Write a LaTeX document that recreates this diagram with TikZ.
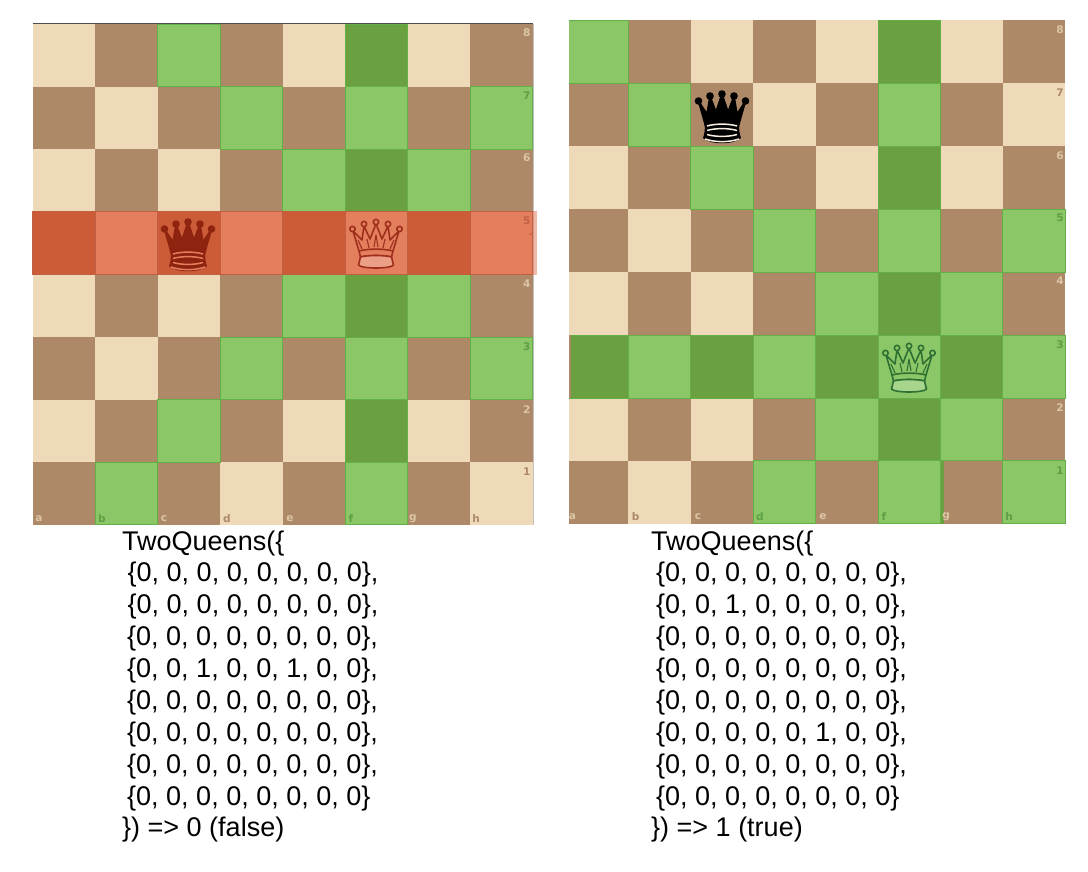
\documentclass[tikz,border=0pt]{standalone}
\usepackage{fontspec}
\setmainfont{Liberation Sans}
\newfontfamily\labfont{DejaVu Sans}
\definecolor{lightsq}{HTML}{EED9B8}
\definecolor{darksq}{HTML}{AE8968}
\definecolor{lightgreen}{HTML}{8BC766}
\definecolor{darkgreen}{HTML}{6AA03F}
\definecolor{greenedge}{HTML}{63B047}
\definecolor{lightred}{HTML}{E47F5E}
\definecolor{darkred}{HTML}{CC5B38}
\definecolor{redmark}{HTML}{C25F42}
\definecolor{qred}{HTML}{8E2310}
\definecolor{qredo}{HTML}{9E2F1C}
\definecolor{qgreen}{HTML}{2F7035}
\definecolor{onbrown}{HTML}{DCC6A6}
\definecolor{ongreen}{HTML}{5E9E45}
\tikzset{
  code/.style={anchor=base west,inner sep=0pt,font=\fontsize{27}{27}\selectfont,text=black},
  coord/.style={inner sep=0pt,font=\labfont\bfseries\fontsize{10.5}{10.5}\selectfont},
}
% \squares{x0}{y0}{cw}{ch}{row/col list}{light colour}{dark colour}{edge}
\newcommand{\squares}[8]{%
  \foreach \r/\c in {#5}{%
    \pgfmathtruncatemacro{\sqparity}{mod(\r+\c,2)}%
    \ifnum\sqparity=0 \def\sqc{#6}\else\def\sqc{#7}\fi
    \filldraw[fill=\sqc,draw=#8,line width=.7] ({#1+#3*\c},{#2+#4*\r}) rectangle ++(#3,#4);
  }%
}
\newcommand{\baseboard}[4]{%
  \foreach \r in {0,...,7}{\foreach \c in {0,...,7}{%
    \pgfmathtruncatemacro{\sqparity}{mod(\r+\c,2)}%
    \ifnum\sqparity=0 \def\sqc{lightsq}\else\def\sqc{darksq}\fi
    \fill[\sqc] ({#1+#3*\c},{#2+#4*\r}) rectangle ++({#3+.2},{#4+.2});
  }}%
}
% solid queen: centre, ink, stripe
\newcommand{\solidqueen}[3]{%
  \begin{scope}[shift={(#1)}]
    \fill[#2] (-23.5,-14) circle (3.8) (-12,-19) circle (3.8) (0,-21) circle (3.8) (12,-19) circle (3.8) (23.5,-14) circle (3.8);
    \filldraw[#2,line width=1.6,line join=round] (-23.5,-14) -- (-15,-1) -- (-12,-19) -- (-6,-3) -- (0,-21) -- (6,-3) -- (12,-19) -- (15,-1) -- (23.5,-14) -- (17,9) -- (-17,9) -- cycle;
    \fill[#2] (-18,8) -- (18,8) .. controls (16,14) and (18,20) .. (19,23) .. controls (12,30) and (-12,30) .. (-19,23) .. controls (-18,20) and (-16,14) .. cycle;
    \draw[#3,line width=1.5] (-15,11) .. controls (-7,8.5) and (7,8.5) .. (15,11);
    \draw[#3,line width=1.5] (-15,15.5) .. controls (-7,13) and (7,13) .. (15,15.5);
    \draw[#3,line width=1.5] (-15,19.5) .. controls (-7,22) and (7,22) .. (15,19.5);
    \draw[#3,line width=1.5] (-17,24) .. controls (-7,27.5) and (7,27.5) .. (17,24);
  \end{scope}%
}
% outlined queen: centre, ink, fill
\newcommand{\openqueen}[3]{%
  \begin{scope}[shift={(#1)},draw=#2,line width=1.6,line join=round]
    \filldraw[fill=#3] (-17,8) -- (-23,-12) -- (-14,-3) -- (-12,-17) -- (-6,-4) -- (0,-19) -- (6,-4) -- (12,-17) -- (14,-3) -- (23,-12) -- (17,8) -- cycle;
    \draw[line width=1.1] (-14,6) -- (-18,-3) (14,6) -- (18,-3) (-7,5) -- (-9,-4) (7,5) -- (9,-4) (-2,4) -- (0,-8) -- (2,4);
    \filldraw[fill=#3] (-23.5,-14) circle (2.7) (-12,-19) circle (2.7) (0,-21) circle (2.7) (12,-19) circle (2.7) (23.5,-14) circle (2.7);
    \filldraw[fill=#3] (-17,8) .. controls (-8,5.5) and (8,5.5) .. (17,8) -- (15.5,14) .. controls (8,12) and (-8,12) .. (-15.5,14) -- cycle;
    \filldraw[fill=#3!75!white] (-15.5,14) .. controls (-8,12) and (8,12) .. (15.5,14) -- (17.5,22) .. controls (15,26) and (-15,26) .. (-17.5,22) -- cycle;
  \end{scope}%
}
\begin{document}
\begin{tikzpicture}[x=1pt,y=-1pt]
\useasboundingbox (0,0) rectangle (1088,872);
\fill[white] (0,0) rectangle (1088,872);

% ---- left board
\baseboard{32.7}{24}{62.5}{62.6}
\squares{32.7}{24}{62.5}{62.6}{0/2,0/5,1/3,1/5,1/7,2/4,2/5,2/6,4/4,4/5,4/6,5/3,5/5,5/7,6/2,6/5,7/1,7/5}{lightgreen}{darkgreen}{greenedge}
\draw[line width=1.2,black!70] (32.7,23.7) -- (533,23.7);
\draw[line width=.6,black!25] (533,24) -- (533,525);
\squares{32.7}{24}{62.5}{62.6}{3/0,3/1,3/2,3/3,3/4,3/5,3/6,3/7}{lightred}{darkred}{redmark}
\fill[lightred,opacity=.55] (533,211) rectangle (537,274.5);
\fill[redmark] (532,211) rectangle (533.2,274.5);
\fill[darkred] (530.5,234) circle (1.2);
\solidqueen{188,243}{qred}{lightred}
\openqueen{376,243}{qredo}{lightred}

% ---- right board
\baseboard{566}{20.5}{62.4}{62.9}
\squares{566}{20.5}{62.4}{62.9}{0/0,0/5,1/1,1/5,2/2,2/5,3/3,3/5,3/7,4/4,4/5,4/6,5/0,5/1,5/2,5/3,5/4,5/5,5/6,5/7,6/4,6/5,6/6,7/3,7/5,7/7}{lightgreen}{darkgreen}{greenedge}
\fill[white] (560,15) rectangle (568.6,530);
\fill[darksq] (568.6,335) rectangle (571,398);
\fill[darkgreen] (941,461) rectangle (943.5,524);
\solidqueen{722,115}{black}{lightsq!40!white}
\openqueen{909,367}{qgreen}{lightgreen}

% ---- coordinates, left
\foreach \n/\t/\x/\col in {la/a/39/onbrown,lb/b/102/ongreen,lc/c/164/onbrown,ld/d/227/darksq,le/e/290/onbrown,lf/f/351/ongreen,lg/g/413/onbrown,lh/h/476/darksq}
  \node[coord,text=\col] (\n) at (\x,519) {\t};
\foreach \n/\t/\y/\col in {l8/8/33/onbrown,l7/7/96/ongreen,l6/6/158/onbrown,l5/5/221/redmark,l4/4/284/onbrown,l3/3/347/ongreen,l2/2/410/onbrown,l1/1/472/darksq}
  \node[coord,text=\col] (\n) at (526.7,\y) {\t};
% ---- coordinates, right
\foreach \n/\t/\x/\col in {ra/a/572.5/onbrown,rb/b/635.7/darksq,rc/c/698/onbrown,rd/d/760/ongreen,re/e/823/onbrown,rf/f/884/ongreen,rg/g/946/onbrown,rh/h/1009/ongreen}
  \node[coord,text=\col] (\n) at (\x,517) {\t};
\foreach \n/\t/\y/\col in {r8/8/30/onbrown,r7/7/93/darksq,r6/6/156/onbrown,r5/5/218/ongreen,r4/4/281/onbrown,r3/3/345/ongreen,r2/2/408/onbrown,r1/1/471/ongreen}
  \node[coord,text=\col] (\n) at (1060,\y) {\t};

% ---- left code
\node[code] (lt0) at (122,550) {TwoQueens(\{};
\node[code] (lt1) at (127.5,581) {\{0, 0, 0, 0, 0, 0, 0, 0\},};
\node[code] (lt2) at (127.5,613) {\{0, 0, 0, 0, 0, 0, 0, 0\},};
\node[code] (lt3) at (127,645) {\{0, 0, 0, 0, 0, 0, 0, 0\},};
\node[code] (lt4) at (127,677) {\{0, 0, 1, 0, 0, 1, 0, 0\},};
\node[code] (lt5) at (127,709) {\{0, 0, 0, 0, 0, 0, 0, 0\},};
\node[code] (lt6) at (127,741) {\{0, 0, 0, 0, 0, 0, 0, 0\},};
\node[code] (lt7) at (127,773) {\{0, 0, 0, 0, 0, 0, 0, 0\},};
\node[code] (lt8) at (127,805) {\{0, 0, 0, 0, 0, 0, 0, 0\}};
\node[code] (lt9) at (122,836) {\}) => 0 (false)};
% ---- right code
\node[code] (rt0) at (651,550) {TwoQueens(\{};
\node[code] (rt1) at (656,581) {\{0, 0, 0, 0, 0, 0, 0, 0\},};
\node[code] (rt2) at (656,613) {\{0, 0, 1, 0, 0, 0, 0, 0\},};
\node[code] (rt3) at (656,645) {\{0, 0, 0, 0, 0, 0, 0, 0\},};
\node[code] (rt4) at (656,677) {\{0, 0, 0, 0, 0, 0, 0, 0\},};
\node[code] (rt5) at (656,709) {\{0, 0, 0, 0, 0, 0, 0, 0\},};
\node[code] (rt6) at (656,741) {\{0, 0, 0, 0, 0, 1, 0, 0\},};
\node[code] (rt7) at (656,773) {\{0, 0, 0, 0, 0, 0, 0, 0\},};
\node[code] (rt8) at (656,805) {\{0, 0, 0, 0, 0, 0, 0, 0\}};
\node[code] (rt9) at (651,836) {\}) => 1 (true)};
\end{tikzpicture}
\end{document}
